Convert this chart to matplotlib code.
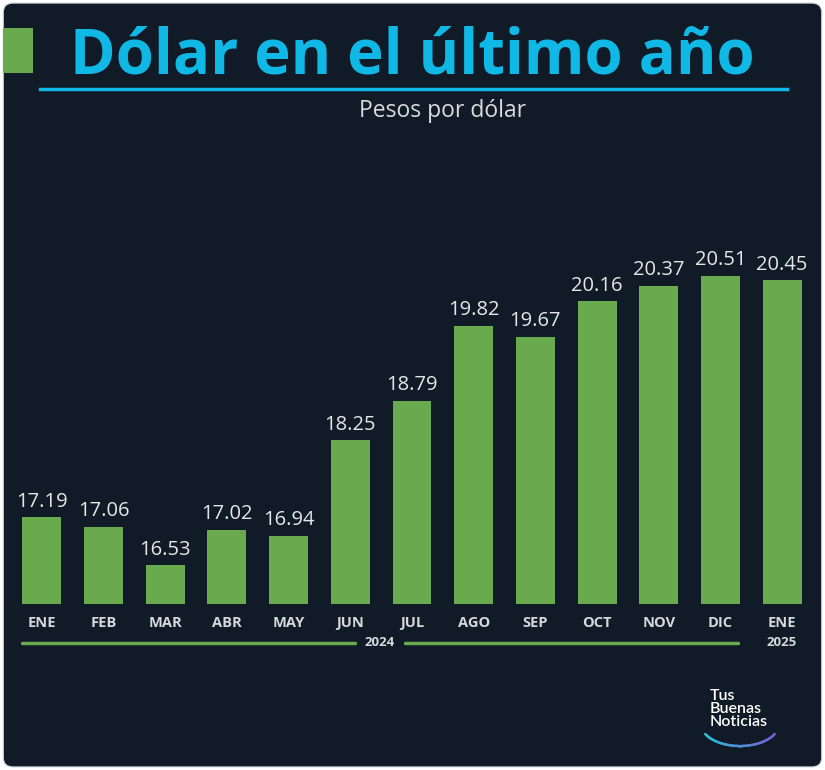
import matplotlib
matplotlib.use("Agg")
import matplotlib.pyplot as plt
from matplotlib.patches import FancyBboxPatch, Rectangle
from matplotlib.lines import Line2D
import numpy as np

months = ["ENE", "FEB", "MAR", "ABR", "MAY", "JUN", "JUL", "AGO", "SEP", "OCT", "NOV", "DIC", "ENE"]
values = [17.19, 17.06, 16.53, 17.02, 16.94, 18.25, 18.79, 19.82, 19.67, 20.16, 20.37, 20.51, 20.45]
years = ["2024", "2025"]
title = "Dólar en el último año"
subtitle = "Pesos por dólar"

BG = "#111a27"
GREEN = "#6aaa4f"
CYAN = "#10b8e6"
W, H = 825, 770

fig = plt.figure(figsize=(W / 100, H / 100), dpi=100, facecolor="white")
bg = FancyBboxPatch((0.004, 0.004), 0.992, 0.992, boxstyle="round,pad=0,rounding_size=0.012",
                    transform=fig.transFigure, facecolor=BG, edgecolor="#cfd3d8", linewidth=0.8, zorder=-10)
fig.patches.append(bg)

def fx(px):
    return px / W

def fy(py):
    return 1 - py / H

# Title block
fig.patches.append(Rectangle((fx(3), fy(73)), fx(30), (73 - 28) / H, transform=fig.transFigure,
                             facecolor=GREEN, edgecolor="none"))
fig.text(fx(412), fy(57), title, ha="center", va="center", color=CYAN, fontsize=44.5,
         fontweight="bold", family="Open Sans")
fig.lines.append(Line2D([fx(40), fx(787)], [fy(89), fy(89)], transform=fig.transFigure,
                        color=CYAN, linewidth=2.5))
fig.text(fx(443), fy(111), subtitle, ha="center", va="center", color="#d8dce0", fontsize=16.5,
         family="Open Sans")

# Axes
ax_top, ax_bot = 230, 604
ax = fig.add_axes([fx(11), fy(ax_bot), fx(802), (ax_bot - ax_top) / H])
ax.set_facecolor("none")
x = np.arange(len(values))
ax.bar(x, values, width=0.63, color=GREEN, edgecolor="none")
ax.set_xlim(-0.5, len(values) - 0.5)
ax.set_ylim(16.0, 21.14)
for s in ax.spines.values():
    s.set_visible(False)
ax.set_xticks([])
ax.set_yticks([])

for xi, v in zip(x, values):
    ax.annotate(f"{v:.2f}", (xi, v), xytext=(0, 4), textcoords="offset points",
                ha="center", va="bottom", color="#e4e6ea", fontsize=14.5, family="Open Sans")

trans = ax.get_xaxis_transform()
for xi, m in zip(x, months):
    ax.text(xi, -0.05, m, transform=trans, ha="center", va="center", color="#d5d8dc",
            fontsize=10.5, fontweight="bold", family="Open Sans")

yl = -0.104
ax.plot([-0.32, 5.07], [yl, yl], transform=trans, color=GREEN, linewidth=2.5,
        clip_on=False, solid_capstyle="round")
ax.plot([5.88, 11.28], [yl, yl], transform=trans, color=GREEN, linewidth=2.5,
        clip_on=False, solid_capstyle="round")
ax.text(5.48, yl, years[0], transform=trans, ha="center", va="center", color="#d5d8dc",
        fontsize=9.5, fontweight="bold", family="Open Sans")
ax.text(12, yl, years[1], transform=trans, ha="center", va="center", color="#d5d8dc",
        fontsize=9.5, fontweight="bold", family="Open Sans")

# Logo
fig.text(fx(710), fy(709), "Tus\nBuenas\nNoticias", ha="left", va="center", color="white",
         fontsize=11.5, family="Lato", fontweight="semibold", linespacing=0.9)
t = np.linspace(np.pi * 1.15, np.pi * 1.85, 40)
cx, cy, r, a = 740, 724, 39, 22
xs = cx + r * np.cos(t)
ys = cy - a * np.sin(t)
cols = plt.cm.colors.LinearSegmentedColormap.from_list("g", ["#25c4d8", "#7a5bd6"])
for i in range(len(t) - 1):
    fig.lines.append(Line2D([fx(xs[i]), fx(xs[i + 1])], [fy(ys[i]), fy(ys[i + 1])],
                            transform=fig.transFigure, color=cols(i / (len(t) - 2)),
                            linewidth=1.8, solid_capstyle="round"))

fig.savefig("out.png", dpi=100, facecolor="white")
